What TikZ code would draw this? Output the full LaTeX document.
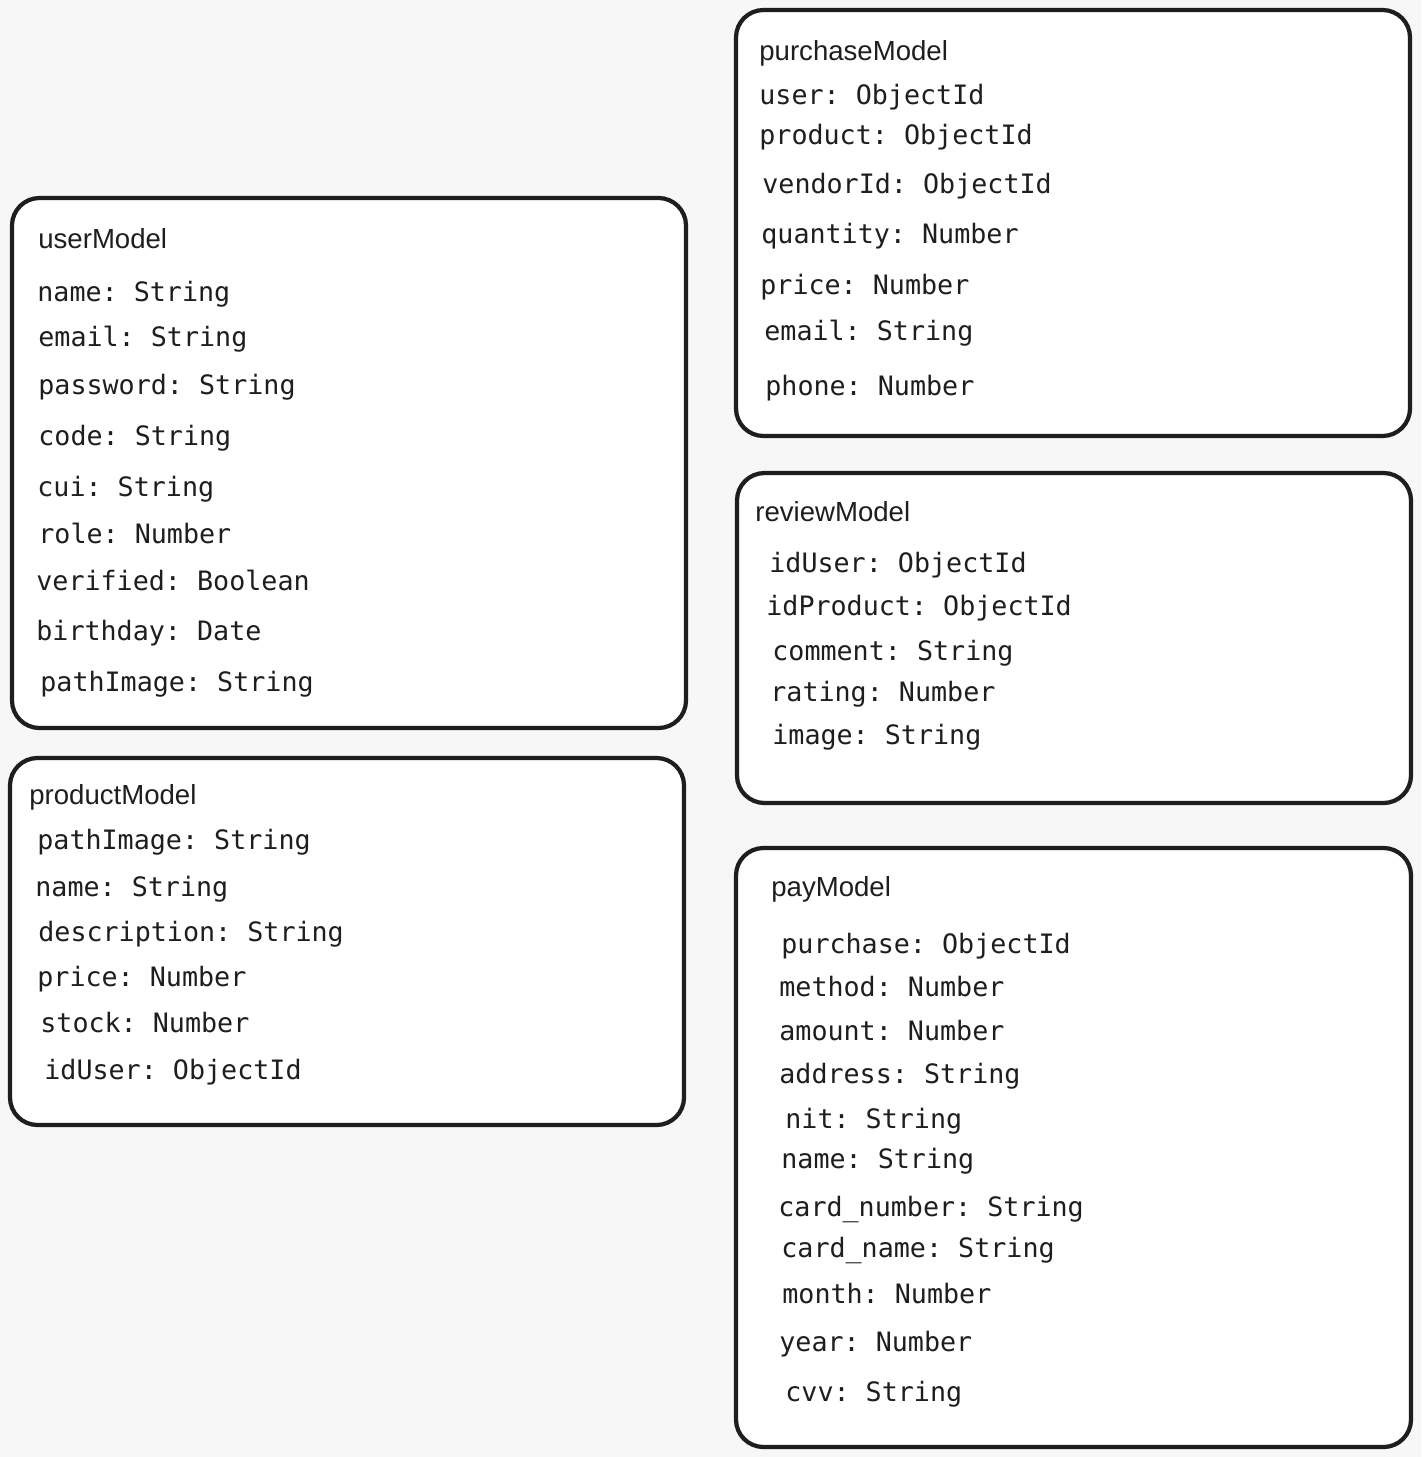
\documentclass[tikz,border=0pt]{standalone}
\usepackage{fontspec}
\setmainfont{Liberation Sans}
\setmonofont{DejaVu Sans Mono}
\usetikzlibrary{positioning}
\definecolor{inkdark}{RGB}{30, 30, 30}
\definecolor{canvasgray}{RGB}{247, 247, 247}
\tikzset{
  modelbox/.style={draw=inkdark, fill=white, line width=2.4pt, rounded corners=0.55cm},
  modeltitle/.style={anchor=base west, inner sep=0pt, text=inkdark, font=\fontsize{15.7}{18}\selectfont},
  field/.style={anchor=base west, inner sep=0pt, text=inkdark, font=\ttfamily\fontsize{15.2}{18}\selectfont}
}

\begin{document}
\begin{tikzpicture}[x=0.02cm, y=-0.02cm]
  % canvas
  \fill[canvasgray] (0,0) rectangle (1421,1457);
  \useasboundingbox (0,0) rectangle (1421,1457);

  % model boxes
  \draw[modelbox] (12,198) rectangle (686,728);
  \draw[modelbox] (10,758) rectangle (684,1125);
  \draw[modelbox] (736,10) rectangle (1410,436);
  \draw[modelbox] (737,473) rectangle (1411,803);
  \draw[modelbox] (736,848) rectangle (1411,1447);

  % titles
  \node[modeltitle] (user-title) at (38,248) {userModel};
  \node[modeltitle] (product-title) at (29,804) {productModel};
  \node[modeltitle] (purchase-title) at (759,60) {purchaseModel};
  \node[modeltitle] (review-title) at (755,521) {reviewModel};
  \node[modeltitle] (pay-title) at (771,896) {payModel};

  % userModel fields
  \foreach \x/\y/\txt [count=\i] in {
    37/301/{name: String},
    38/346/{email: String},
    38/394/{password: String},
    38/445/{code: String},
    37/496/{cui: String},
    38/543/{role: Number},
    36/590/{verified: Boolean},
    36/640/{birthday: Date},
    40/691/{pathImage: String}
  } {
    \node[field] (user-\i) at (\x,\y) {\txt};
  }

  % productModel fields
  \foreach \x/\y/\txt [count=\i] in {
    37/849/{pathImage: String},
    35/896/{name: String},
    38/941/{description: String},
    37/986/{price: Number},
    40/1032/{stock: Number},
    44/1079/{idUser: ObjectId}
  } {
    \node[field] (product-\i) at (\x,\y) {\txt};
  }

  % purchaseModel fields
  \foreach \x/\y/\txt [count=\i] in {
    759/104/{user: ObjectId},
    759/144/{product: ObjectId},
    762/193/{vendorId: ObjectId},
    761/243/{quantity: Number},
    760/294/{price: Number},
    764/340/{email: String},
    765/395/{phone: Number}
  } {
    \node[field] (purchase-\i) at (\x,\y) {\txt};
  }

  % reviewModel fields
  \foreach \x/\y/\txt [count=\i] in {
    769/572/{idUser: ObjectId},
    766/615/{idProduct: ObjectId},
    772/660/{comment: String},
    770/701/{rating: Number},
    772/744/{image: String}
  } {
    \node[field] (review-\i) at (\x,\y) {\txt};
  }

  % payModel fields
  \foreach \x/\y/\txt [count=\i] in {
    781/953/{purchase: ObjectId},
    779/996/{method: Number},
    779/1040/{amount: Number},
    779/1083/{address: String},
    785/1128/{nit: String},
    781/1168/{name: String},
    778/1216/{card\_number: String},
    781/1257/{card\_name: String},
    782/1303/{month: Number},
    779/1351/{year: Number},
    785/1401/{cvv: String}
  } {
    \node[field] (pay-\i) at (\x,\y) {\txt};
  }
\end{tikzpicture}
\end{document}
